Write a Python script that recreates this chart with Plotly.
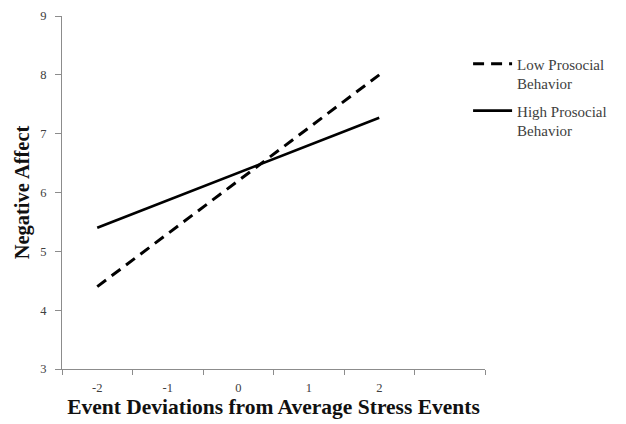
import plotly.graph_objects as go

x_vals = [-2, -1, 0, 1, 2]
low_prosocial = [4.40, 5.30, 6.20, 7.10, 8.00]
high_prosocial = [5.40, 5.87, 6.33, 6.80, 7.27]
y_ticks = [3, 4, 5, 6, 7, 8, 9]
x_ticks = [-2, -1, 0, 1, 2]

fig = go.Figure()
fig.add_trace(go.Scatter(
    x=x_vals, y=low_prosocial, mode="lines",
    name="Low Prosocial<br>Behavior", legendgroup="a",
    line=dict(color="black", width=3, dash="11px,7px"),
))
fig.add_trace(go.Scatter(
    x=x_vals, y=high_prosocial, mode="lines",
    name="High Prosocial<br>Behavior", legendgroup="b",
    line=dict(color="black", width=2.6),
))

axis_color = "#8c8c8c"
fig.update_layout(
    width=626, height=424,
    margin=dict(l=54, r=149, t=8, b=63, autoexpand=False),
    paper_bgcolor="white", plot_bgcolor="white",
    font=dict(family="Liberation Serif", color="#404040"),
    showlegend=True,
    legend=dict(
        x=0.96, y=0.911, xanchor="left", yanchor="top",
        bgcolor="rgba(0,0,0,0)", borderwidth=0,
        font=dict(family="Liberation Serif", size=15, color="#404040"),
        itemwidth=39, valign="top", tracegroupgap=5,
    ),
    xaxis=dict(
        range=[-2.5, 3.5], automargin=False,
        tickmode="array", tickvals=x_ticks, ticktext=[str(v) for v in x_ticks],
        ticks="outside", ticklen=7, tickcolor="rgba(0,0,0,0)",
        showgrid=False, zeroline=False,
        showline=True, linecolor=axis_color, linewidth=1,
        tickfont=dict(family="Liberation Serif", size=12.5, color="#404040"),
        minor=dict(tick0=-2.5, dtick=1, ticks="outside", ticklen=5,
                   tickcolor=axis_color, showgrid=False),
        title=dict(text="<b>Event Deviations from Average Stress Events</b>",
                   font=dict(family="Liberation Serif", size=21.5, color="#111111"),
                   standoff=1),
    ),
    yaxis=dict(
        range=[3, 9], automargin=False,
        tickmode="array", tickvals=y_ticks,
        ticks="outside", ticklen=6, tickcolor=axis_color,
        ticklabelstandoff=6,
        showgrid=False, zeroline=False,
        showline=True, linecolor=axis_color, linewidth=1,
        tickfont=dict(family="Liberation Serif", size=12.5, color="#404040"),
        title=dict(text="<b>Negative Affect</b>",
                   font=dict(family="Liberation Serif", size=20.5, color="#111111"),
                   standoff=5),
    ),
)

fig.write_html("out.html")
